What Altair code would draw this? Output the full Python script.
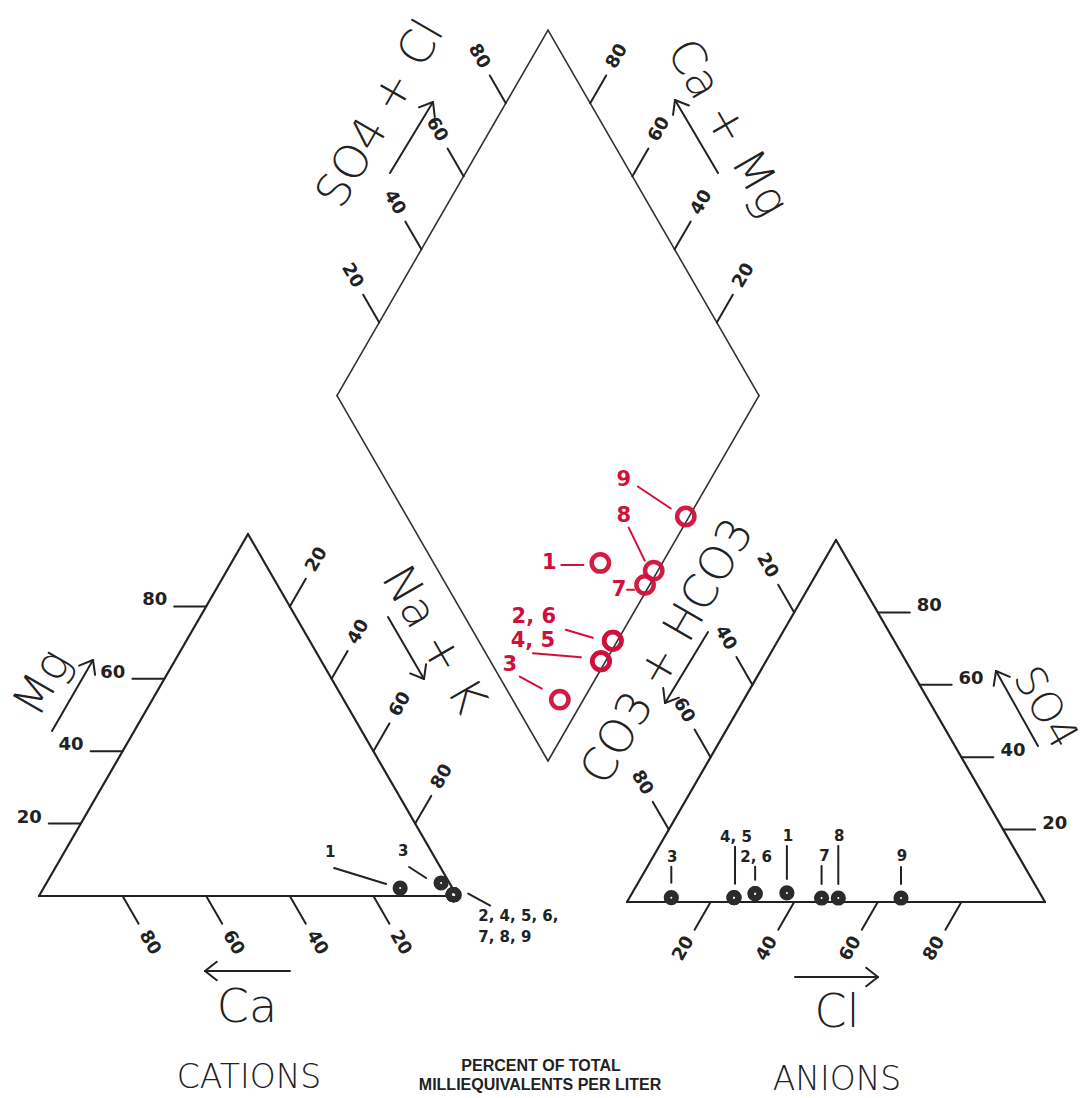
import math
import altair as alt
import pandas as pd

W, H = 1092, 1098

# ---- sample data: percent of total milliequivalents per liter ----
samples = ["1", "2", "3", "4", "5", "6", "7", "8", "9"]
ca_pct = [12.5, 0.7, 2.0, 0.7, 0.7, 0.7, 0.7, 0.6, 0.5]
mg_pct = [2.2, 0.4, 3.6, 0.4, 0.4, 0.4, 0.4, 0.4, 0.3]
nak_pct = [85.3, 98.9, 94.4, 98.9, 98.9, 98.9, 98.9, 99.0, 99.2]
hco3_pct = [60.5, 68.2, 88.8, 73.8, 73.8, 68.2, 52.9, 48.9, 33.9]
so4_pct = [2.5, 2.3, 1.2, 1.2, 1.2, 2.3, 1.1, 1.1, 1.1]
cl_pct = [37.0, 29.5, 10.0, 25.0, 25.0, 29.5, 46.0, 50.0, 65.0]

tick_values = [20, 40, 60, 80]

# ---- layout of the three plotting fields ----
SIDE = 418
SIN60 = math.sqrt(3) / 2
CAT_ORIGIN = (39, 896)     # 100 % Ca corner
AN_ORIGIN = (627, 902)     # 100 % CO3 + HCO3 corner
DIA_SIDE = 422
DIA_BOTTOM = (548, 761)    # 100 % Na + K / 100 % CO3 + HCO3 corner

INK = "#222222"
RED = "#d0103a"


def cation_xy(ca, mg, nak):
    return (CAT_ORIGIN[0] + SIDE * (nak + mg / 2) / 100,
            CAT_ORIGIN[1] - SIDE * SIN60 * mg / 100)


def anion_xy(hco3, so4, cl):
    return (AN_ORIGIN[0] + SIDE * (cl + so4 / 2) / 100,
            AN_ORIGIN[1] - SIDE * SIN60 * so4 / 100)


def diamond_xy(camg, so4cl):
    return (DIA_BOTTOM[0] + DIA_SIDE * (so4cl - camg) / 200,
            DIA_BOTTOM[1] - DIA_SIDE * SIN60 * (so4cl + camg) / 100)


segs = []      # line segments
texts = []     # text items


def seg(p, q, color=INK, width=2.0):
    segs.append({"x": p[0], "y": p[1], "x2": q[0], "y2": q[1], "c": color, "w": width})


def txt(p, t, size, angle=0, color=INK, style="tick"):
    texts.append({"x": p[0], "y": p[1], "t": t, "fs": size, "a": angle, "c": color, "s": style})


def polygon(pts, width, color=INK):
    for i in range(len(pts)):
        seg(pts[i], pts[(i + 1) % len(pts)], color, width)


# outlines
polygon([cation_xy(100, 0, 0), cation_xy(0, 100, 0), cation_xy(0, 0, 100)], 2.2)
polygon([anion_xy(100, 0, 0), anion_xy(0, 100, 0), anion_xy(0, 0, 100)], 2.2)
polygon([diamond_xy(0, 0), diamond_xy(100, 0), diamond_xy(100, 100), diamond_xy(0, 100)], 1.6, "#333333")

TICK_LEN = 32
LABEL_DIST = 54


def slanted_ticks(base_fn, direction, angle):
    dx, dy = direction
    for v in tick_values:
        bx, by = base_fn(v)
        seg((bx, by), (bx + dx * TICK_LEN, by + dy * TICK_LEN), INK, 2.0)
        txt((bx + dx * LABEL_DIST, by + dy * LABEL_DIST), str(v), 18, angle)


def flat_ticks(base_fn, side):
    for v in tick_values:
        bx, by = base_fn(v)
        ex = bx + side * TICK_LEN
        seg((bx, by), (ex, by), INK, 2.0)
        style = "tickR" if side < 0 else "tickL"
        txt((ex + side * 7, by - 6), str(v), 18, 0, INK, style)


# cation triangle scales
slanted_ticks(lambda v: cation_xy(v, 0, 100 - v), (0.5, SIN60), 60)
flat_ticks(lambda v: cation_xy(100 - v, v, 0), -1)
slanted_ticks(lambda v: cation_xy(0, 100 - v, v), (0.5, -SIN60), 300)
# anion triangle scales
slanted_ticks(lambda v: anion_xy(100 - v, 0, v), (-0.5, SIN60), 300)
slanted_ticks(lambda v: anion_xy(v, 100 - v, 0), (-0.5, -SIN60), 60)
flat_ticks(lambda v: anion_xy(0, v, 100 - v), 1)
# diamond scales
slanted_ticks(lambda v: diamond_xy(100, v), (-0.5, -SIN60), 60)
slanted_ticks(lambda v: diamond_xy(v, 100), (0.5, -SIN60), 300)


# axis titles with direction arrows
def arrow(start, head, arm=15, spread=38):
    seg(start, head, INK, 2.0)
    ang = math.atan2(start[1] - head[1], start[0] - head[0])
    for s in (-1, 1):
        a = ang + s * math.radians(spread)
        seg(head, (head[0] + arm * math.cos(a), head[1] + arm * math.sin(a)), INK, 2.0)


NB = "\u00a0"
titles = [
    ((43, 683), "Mg", 300, 46, (52, 731), (93, 660)),
    ((433, 640), "Na" + NB + "+" + NB + "K", 60, 46, (388, 617), (424, 679)),
    ((247, 1008), "Ca", 0, 46, (290, 971), (205, 971)),
    ((837, 1013), "Cl", 0, 46, (795, 977), (878, 977)),
    ((1045, 708), "SO4", 60, 42, (1038, 746), (996, 671)),
    ((668, 652), "CO3" + NB + "+" + NB + "HCO3", 300, 46, (708, 632), (665, 703)),
    ((381, 114), "SO4" + NB + "+" + NB + "Cl", 300, 46, (390, 173), (433, 102)),
    ((727, 128), "Ca" + NB + "+" + NB + "Mg", 60, 46, (718, 173), (675, 100)),
]
for pos, label, ang, fs, a0, a1 in titles:
    txt(pos, label, fs, ang, INK, "title")
    arrow(a0, a1)

txt((249, 1078), "CATIONS", 33, 0, INK, "title")
txt((837, 1080), "ANIONS", 33, 0, INK, "title")
txt((541, 1066), "PERCENT OF TOTAL", 16, 0, INK, "note")
txt((540, 1085), "MILLIEQUIVALENTS PER LITER", 16, 0, INK, "note")

# ---- plotted samples ----
cat_pts = [cation_xy(a, b, c) for a, b, c in zip(ca_pct, mg_pct, nak_pct)]
an_pts = [anion_xy(a, b, c) for a, b, c in zip(hco3_pct, so4_pct, cl_pct)]
dia_pts = [diamond_xy(a + b, c + d) for a, b, c, d in zip(ca_pct, mg_pct, so4_pct, cl_pct)]

idx = {s: i for i, s in enumerate(samples)}


def annotate(points, anchor, lines, label_off, lead_from, lead_to, size, color, style, line_gap=21):
    px, py = points[idx[anchor]]
    for k, line in enumerate(lines):
        txt((px + label_off[0], py + label_off[1] + k * line_gap), line, size, 0, color, style)
    seg((px + lead_from[0], py + lead_from[1]), (px + lead_to[0], py + lead_to[1]), color, 2.0)


# cation labels
annotate(cat_pts, "1", ["1"], (-70, -36), (-66, -20), (-14, -4), 15, INK, "num")
annotate(cat_pts, "3", ["3"], (-38, -32), (-32, -16), (-15, -5), 15, INK, "num")
annotate(cat_pts, "2", ["2, 4, 5, 6,", "7, 8, 9"], (25, 21), (37, 11), (15, -1), 15, INK, "numL")
# anion labels
annotate(an_pts, "3", ["3"], (1, -41), (0, -31), (0, -15), 15, INK, "num")
annotate(an_pts, "4", ["4, 5"], (2, -61), (1, -51), (1, -14), 15, INK, "num")
annotate(an_pts, "2", ["2, 6"], (1, -37), (0, -27), (0, -14), 15, INK, "num")
annotate(an_pts, "1", ["1"], (1, -57), (0, -47), (0, -14), 15, INK, "num")
annotate(an_pts, "7", ["7"], (3, -42), (0, -32), (0, -14), 15, INK, "num")
annotate(an_pts, "8", ["8"], (1, -62), (0, -52), (0, -14), 15, INK, "num")
annotate(an_pts, "9", ["9"], (1, -42), (0, -31), (0, -14), 15, INK, "num")
# diamond labels
annotate(dia_pts, "9", ["9"], (-62, -37), (-48, -30), (-15, -8), 21, RED, "red")
annotate(dia_pts, "8", ["8"], (-30, -55), (-25, -43), (-9, -10), 21, RED, "red")
annotate(dia_pts, "1", ["1"], (-51, 0), (-39, 2), (-17, 2), 21, RED, "red")
annotate(dia_pts, "7", ["7"], (-26, 5), (-18, 5), (-11, 5), 21, RED, "red")
annotate(dia_pts, "2", ["2, 6"], (-79, -24), (-47, -11), (-20, -3), 21, RED, "red")
annotate(dia_pts, "4", ["4, 5"], (-68, -20), (-68, -8), (-20, -4), 21, RED, "red")
annotate(dia_pts, "3", ["3"], (-50, -35), (-40, -23), (-18, -11), 21, RED, "red")

seg_df = pd.DataFrame(segs)
txt_df = pd.DataFrame(texts)
dots_df = pd.DataFrame(
    [{"x": p[0], "y": p[1], "sample": s} for s, p in zip(samples, cat_pts)]
    + [{"x": p[0], "y": p[1], "sample": s} for s, p in zip(samples, an_pts)]
)
dia_df = pd.DataFrame([{"x": p[0], "y": p[1], "sample": s} for s, p in zip(samples, dia_pts)])

X = alt.X("x:Q", scale=alt.Scale(domain=[0, W], nice=False, zero=False), axis=None)
Y = alt.Y("y:Q", scale=alt.Scale(domain=[0, H], nice=False, zero=False, reverse=True), axis=None)

lines = alt.Chart(seg_df).mark_rule(strokeCap="round").encode(
    x=X, y=Y, x2="x2:Q", y2="y2:Q",
    color=alt.Color("c:N", scale=None),
    strokeWidth=alt.StrokeWidth("w:Q", scale=None),
)

text_styles = {
    "tick": dict(font="DejaVu Sans", fontWeight="bold", align="center"),
    "tickR": dict(font="DejaVu Sans", fontWeight="bold", align="right"),
    "tickL": dict(font="DejaVu Sans", fontWeight="bold", align="left"),
    "title": dict(font="DejaVu Sans", fontWeight=200, align="center"),
    "note": dict(font="Liberation Sans", fontWeight="bold", align="center"),
    "num": dict(font="DejaVu Sans", fontWeight="bold", align="center"),
    "numL": dict(font="DejaVu Sans", fontWeight="bold", align="left"),
    "red": dict(font="DejaVu Sans", fontWeight="bold", align="center"),
}
text_layers = []
for style, opts in text_styles.items():
    sub = txt_df[txt_df["s"] == style]
    if sub.empty:
        continue
    text_layers.append(
        alt.Chart(sub).mark_text(baseline="middle", **opts).encode(
            x=X, y=Y, text="t:N",
            angle=alt.Angle("a:Q", scale=None),
            size=alt.Size("fs:Q", scale=None),
            color=alt.Color("c:N", scale=None),
        )
    )

dots = alt.Chart(dots_df).mark_point(
    shape="circle", filled=True, size=230, color="#2b2b2b", opacity=1
).encode(x=X, y=Y)
dot_centers = alt.Chart(dots_df).mark_point(
    shape="circle", filled=True, size=4, color="white", opacity=1
).encode(x=X, y=Y)
rings = alt.Chart(dia_df).mark_point(
    shape="circle", filled=False, size=300, strokeWidth=4.5, color=RED, opacity=0.95
).encode(x=X, y=Y)

chart = alt.layer(lines, *text_layers, dots, dot_centers, rings).properties(
    width=W, height=H, padding=0, autosize=alt.AutoSizeParams(type="none"),
    background="white",
).configure_view(stroke=None)

chart.save("out.html", embed_options={"renderer": "svg", "actions": False})
